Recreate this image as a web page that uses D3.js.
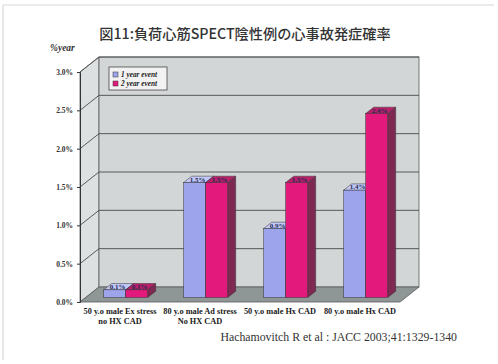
<!DOCTYPE html>
<html>
<head>
<meta charset="utf-8">
<script src="https://cdn.jsdelivr.net/npm/d3@7/dist/d3.min.js"></script>
<style>
  html, body { margin: 0; padding: 0; background: #fff; }
  svg { display: block; }
</style>
</head>
<body>
<svg id="chart" width="498" height="364"></svg>
<script>
// Event rates per group (%/year)
const categories = [
  ["50 y.o male Ex stress", "no HX CAD"],
  ["80 y.o male Ad stress", "No HX CAD"],
  ["50 y.o male Hx CAD"],
  ["80 y.o male Hx CAD"]
];
const seriesNames = ["1 year event", "2 year event"];
const oneYear = [0.1, 1.5, 0.9, 1.4];
const twoYear = [0.1, 1.5, 1.5, 2.4];
const yTicks = [0, 0.5, 1.0, 1.5, 2.0, 2.5, 3.0];

const titleText = "図11:負荷心筋SPECT陰性例の心事故発症確率";
const citation = "Hachamovitch R et al : JACC 2003;41:1329-1340";

const svg = d3.select("#chart");

// frame lines
svg.append("line").attr("x1", 3).attr("x2", 494).attr("y1", 5).attr("y2", 5)
  .attr("stroke", "#d8d8d8").attr("stroke-width", 1.2);
svg.append("line").attr("x1", 3).attr("x2", 3).attr("y1", 5).attr("y2", 360)
  .attr("stroke", "#d8d8d8").attr("stroke-width", 1.2);

// 3D plot geometry
const front = { left: 80, right: 400 };
const depth = { dx: 19, dy: -15 };
const y = d3.scaleLinear().domain([0, 3.0]).range([302, 72]);
const x = d3.scaleBand().domain(d3.range(categories.length))
  .range([front.left, front.right]).paddingInner(0).paddingOuter(0);
const xs = d3.scaleBand().domain([0, 1]).range([0, 44]);

const wallColor = "#d3d6d6";
const sideWallColor = "#dde0e0";
const floorColor = "#8e9696";
const gridColor = "#4a4a4a";

const pts = p => p.map(d => d.join(",")).join(" ");

// left side wall
svg.append("polygon")
  .attr("points", pts([[front.left, y(0)], [front.left, y(3)],
    [front.left + depth.dx, y(3) + depth.dy], [front.left + depth.dx, y(0) + depth.dy]]))
  .attr("fill", sideWallColor).attr("stroke", "#5a5a5a").attr("stroke-width", 0.8);

// back wall
svg.append("rect")
  .attr("x", front.left + depth.dx).attr("y", y(3) + depth.dy)
  .attr("width", front.right - front.left).attr("height", y(0) - y(3))
  .attr("fill", wallColor).attr("stroke", "#5a5a5a").attr("stroke-width", 0.8);

// floor
svg.append("polygon")
  .attr("points", pts([[front.left, y(0)], [front.right, y(0)],
    [front.right + depth.dx, y(0) + depth.dy], [front.left + depth.dx, y(0) + depth.dy]]))
  .attr("fill", floorColor).attr("stroke", "#5a5a5a").attr("stroke-width", 0.8);

// gridlines on side wall and back wall
const grid = svg.append("g").attr("stroke", gridColor).attr("stroke-width", 0.9).attr("fill", "none");
yTicks.filter(t => t > 0).forEach(t => {
  grid.append("polyline").attr("points", pts([
    [front.left, y(t)],
    [front.left + depth.dx, y(t) + depth.dy],
    [front.right + depth.dx, y(t) + depth.dy]
  ]));
});

// y axis
const yAxis = d3.axisLeft(y).tickValues(yTicks).tickSize(3)
  .tickFormat(d => d3.format(".1f")(d) + "%");
const ya = svg.append("g").attr("transform", `translate(${front.left},0)`).call(yAxis);
ya.select(".domain").attr("stroke", "#333");
ya.selectAll(".tick line").attr("stroke", "#333");
ya.selectAll("text").attr("font-family", "Liberation Serif").attr("font-weight", "bold")
  .attr("font-size", 7.5).attr("fill", "#333").attr("dx", -1);

svg.append("text").attr("x", 50).attr("y", 51)
  .attr("font-family", "Liberation Serif").attr("font-style", "italic").attr("font-weight", "bold")
  .attr("font-size", 9.5).attr("fill", "#333").text("%year");

// bars
const palettes = [
  { front: "#9da4ec", top: "#c2c7f6", side: "#5f64a8" },
  { front: "#e3197b", top: "#b8216a", side: "#7e2a50" }
];
const barDepth = { f: 0.3, b: 0.72 };
const series = [oneYear, twoYear];
const barsG = svg.append("g");
categories.forEach((c, i) => {
  series.forEach((vals, s) => {
    const v = vals[i];
    const pal = palettes[s];
    const bx = x(i) + (x.bandwidth() - 44) / 2 + xs(s) + depth.dx * barDepth.f;
    const by0 = y(0) + depth.dy * barDepth.f;
    const by1 = y(v) + depth.dy * barDepth.f;
    const w = xs.bandwidth();
    const ddx = depth.dx * (barDepth.b - barDepth.f);
    const ddy = depth.dy * (barDepth.b - barDepth.f);
    const g = barsG.append("g");
    // side face
    g.append("polygon").attr("points", pts([[bx + w, by0], [bx + w, by1],
      [bx + w + ddx, by1 + ddy], [bx + w + ddx, by0 + ddy]]))
      .attr("fill", pal.side).attr("stroke", "#333").attr("stroke-width", 0.5);
    // top face
    g.append("polygon").attr("points", pts([[bx, by1], [bx + w, by1],
      [bx + w + ddx, by1 + ddy], [bx + ddx, by1 + ddy]]))
      .attr("fill", pal.top).attr("stroke", "#333").attr("stroke-width", 0.5);
    // front face
    g.append("rect").attr("x", bx).attr("y", by1).attr("width", w).attr("height", by0 - by1)
      .attr("fill", pal.front).attr("stroke", "#333").attr("stroke-width", 0.5);
    // value label
    g.append("text").attr("x", bx + w / 2 + 3).attr("y", by1 - 1)
      .attr("text-anchor", "middle").attr("font-family", "Liberation Serif")
      .attr("font-weight", "bold").attr("font-size", 7).attr("fill", "#1d2a55")
      .text(d3.format(".1f")(v) + "%");
  });
});

// category labels
const catG = svg.append("g").attr("font-family", "Liberation Serif").attr("font-weight", "bold")
  .attr("font-size", 8.3).attr("fill", "#1a1a1a").attr("text-anchor", "middle");
categories.forEach((lines, i) => {
  const t = catG.append("text").attr("x", x(i) + x.bandwidth() / 2).attr("y", 314);
  lines.forEach((ln, k) => t.append("tspan").attr("x", x(i) + x.bandwidth() / 2)
    .attr("dy", k === 0 ? 0 : 10).text(ln));
});

// legend
const lg = svg.append("g").attr("transform", "translate(109,67)");
lg.append("rect").attr("width", 58).attr("height", 23).attr("fill", "#f2f2f2")
  .attr("stroke", "#333").attr("stroke-width", 0.7);
seriesNames.forEach((n, s) => {
  const row = lg.append("g").attr("transform", `translate(4,${5 + s * 9})`);
  row.append("rect").attr("width", 5).attr("height", 5)
    .attr("fill", palettes[s].front).attr("stroke", "#333").attr("stroke-width", 0.5);
  row.append("text").attr("x", 8).attr("y", 5).attr("font-family", "Liberation Serif")
    .attr("font-weight", "bold").attr("font-style", "italic").attr("font-size", 7.3)
    .attr("fill", "#222").text(n);
});

// title
svg.append("text").attr("x", 245).attr("y", 39).attr("text-anchor", "middle")
  .attr("font-family", "'Noto Sans CJK JP'").attr("font-weight", 500)
  .attr("font-size", 14.2).attr("fill", "#333").text(titleText);

// citation
svg.append("text").attr("x", 457).attr("y", 341).attr("text-anchor", "end")
  .attr("font-family", "Liberation Serif").attr("font-size", 11.8).attr("fill", "#333")
  .text(citation);
</script>
</body>
</html>
